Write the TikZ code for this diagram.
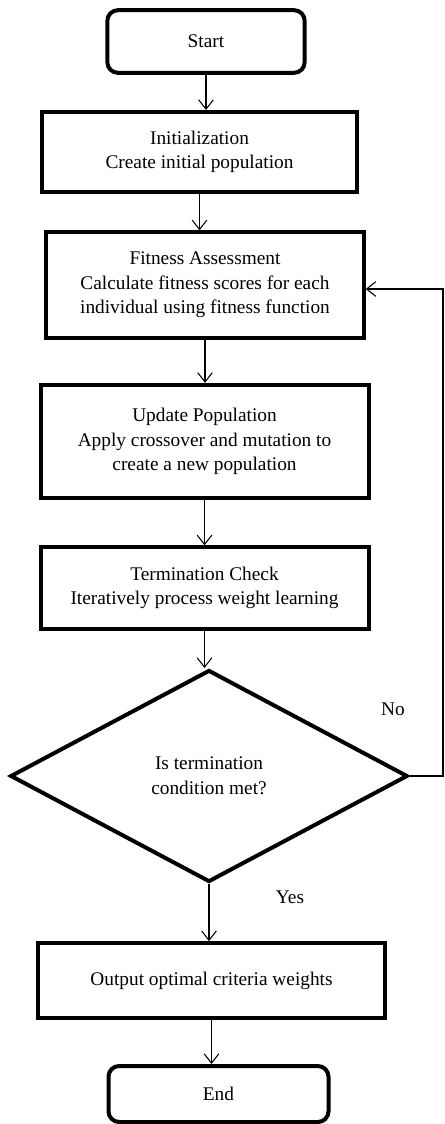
\documentclass[tikz,border=0pt]{standalone}
\usepackage{fontspec}
\setmainfont{Liberation Serif}
\usetikzlibrary{shapes.geometric,arrows.meta}

\begin{document}
\begin{tikzpicture}[
    x=0.75pt, y=-0.75pt,
    every node/.style={font=\fontsize{14.5}{18.5}\selectfont, align=center},
    terminal/.style={rectangle, rounded corners=8pt, draw, line width=3pt, inner sep=0pt},
    process/.style={rectangle, draw, line width=3pt, inner sep=0pt},
    decision/.style={diamond, draw, line width=3pt, inner sep=0pt},
    flow/.style={line width=0.8pt, -{Straight Barb[length=7pt,width=11pt]}}
]
\useasboundingbox (0,0) rectangle (444,1124);

% Main chain of steps
\node[terminal, minimum width=148pt, minimum height=47pt] (start) at (206,41.5) {Start};
\node[process, minimum width=236pt, minimum height=60pt] (init) at (199.5,152) {Initialization\\Create initial population};
\node[process, minimum width=238pt, minimum height=79pt] (fit) at (205,285) {Fitness Assessment\\Calculate fitness scores for each\\individual using fitness function};
\node[process, minimum width=246pt, minimum height=85pt] (upd) at (204.5,441.5) {Update Population\\Apply crossover and mutation to\\create a new population};
\node[process, minimum width=246pt, minimum height=61pt] (term) at (204.5,588) {Termination Check\\Iteratively process weight learning};
\node[decision, minimum width=298pt, minimum height=159pt] (dec) at (209,776) {Is termination\\condition met?};
\node[process, minimum width=260pt, minimum height=56pt] (out) at (211.5,980.5) {Output optimal criteria weights};
\node[terminal, minimum width=165pt, minimum height=42pt] (end) at (218.5,1094) {End};

% Branch labels
\node (no) at (393,709) {No};
\node (yes) at (290,897) {Yes};

% Connectors
\draw[flow] (start.south) -- (start.south |- init.north);
\draw[flow] (init.south) -- (init.south |- fit.north);
\draw[flow] (fit.south) -- (fit.south |- upd.north);
\draw[flow] (upd.south) -- (upd.south |- term.north);
\draw[flow] (term.south) -- (term.south |- dec.north);
\draw[flow] (dec.south) -- (dec.south |- out.north);
\draw[flow] (out.south) -- (out.south |- end.north);

% Loop back when not finished
\coordinate (back) at (443,289);
\draw[flow] (dec.east) -| (back) -- (fit.east |- back);

\end{tikzpicture}
\end{document}
